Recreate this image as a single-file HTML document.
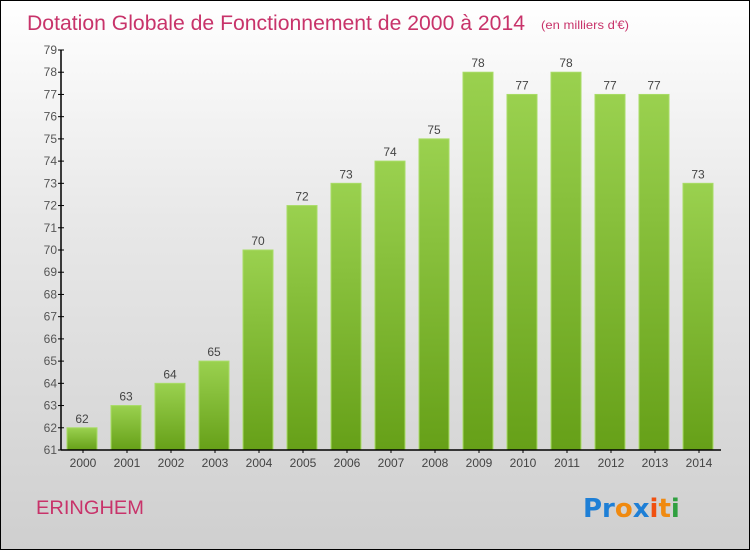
<!DOCTYPE html>
<html><head><meta charset="utf-8"><style>
body{margin:0}
#c{position:relative;width:748px;height:548px;border:1px solid #000;background:linear-gradient(#fff,#e8e8e8 40%,#cfcfcf);overflow:hidden;font-family:"Liberation Sans",sans-serif}
</style></head><body>
<div id="c">
<svg id="s" width="748" height="548" style="position:absolute;left:0;top:0" font-family="Liberation Sans, sans-serif">
<defs><linearGradient id="g" x1="0" y1="0" x2="0" y2="1"><stop offset="0" stop-color="#9ad14f"/><stop offset="1" stop-color="#66a018"/></linearGradient></defs>
<text x="26" y="29" font-size="21" fill="#c8336a" textLength="498" lengthAdjust="spacingAndGlyphs">Dotation Globale de Fonctionnement de 2000 à 2014</text>
<text x="540" y="28" font-size="12" fill="#c8336a" textLength="88" lengthAdjust="spacingAndGlyphs">(en milliers d'€)</text>
<text x="35" y="513" font-size="19" fill="#c8336a" textLength="108" lengthAdjust="spacingAndGlyphs">ERINGHEM</text>
<g font-family="DejaVu Sans" font-size="26" font-weight="bold"><text x="582" y="516"><tspan fill="#1e7fd6">Pr</tspan><tspan fill="#f08a10">o</tspan><tspan fill="#1e7fd6">x</tspan><tspan fill="#f05010">i</tspan><tspan fill="#f08a10">t</tspan><tspan fill="#30a040">i</tspan></text></g>
</svg>
</div>
<script>
const years=["2000","2001","2002","2003","2004","2005","2006","2007","2008","2009","2010","2011","2012","2013","2014"];
const values=[62,63,64,65,70,72,73,74,75,78,77,78,77,77,73];
const yTicks=[61,62,63,64,65,66,67,68,69,70,71,72,73,74,75,76,77,78,79];
const svg=document.getElementById('s');const NS='http://www.w3.org/2000/svg';
const x0=60,band=44,yMin=61,yMax=79,yTop=49,yBot=449;
const Y=v=>yBot-(v-yMin)/(yMax-yMin)*(yBot-yTop);
function mk(t,a,txt){const e=document.createElementNS(NS,t);for(const k in a)e.setAttribute(k,a[k]);if(txt!=null)e.textContent=txt;svg.appendChild(e);return e;}
values.forEach((v,i)=>{
 const b=mk('rect',{x:x0+i*band+6,y:Y(v),width:30,height:yBot-Y(v),fill:'url(#g)',stroke:'#a8dc66','stroke-width':1});
 
 
 const l=mk('text',{x:x0+i*band+21,y:Y(v)-5,'font-size':12,fill:'#444','text-anchor':'middle'},String(v));
 
 
 const t=mk('text',{x:x0+i*band+22,y:466,'font-size':12,fill:'#444','text-anchor':'middle'},years[i]);
 
 
 mk('line',{x1:x0+i*band+22,x2:x0+i*band+22,y1:yBot,y2:yBot+3,stroke:'#000'});
});
yTicks.forEach(v=>{
 mk('line',{x1:x0-3,x2:x0+3,y1:Y(v),y2:Y(v),stroke:'#000'});
 const t=mk('text',{x:x0-4,y:Y(v)+4,'font-size':12,fill:'#555','text-anchor':'end'},String(v));
 
 
});
const ya=mk('line',{x1:x0,x2:x0,y1:yTop,y2:yBot,stroke:'#000','stroke-width':1.5});


const xa=mk('line',{x1:x0,x2:x0+15*band,y1:yBot,y2:yBot,stroke:'#000','stroke-width':1.5});


</script>
</body></html>
